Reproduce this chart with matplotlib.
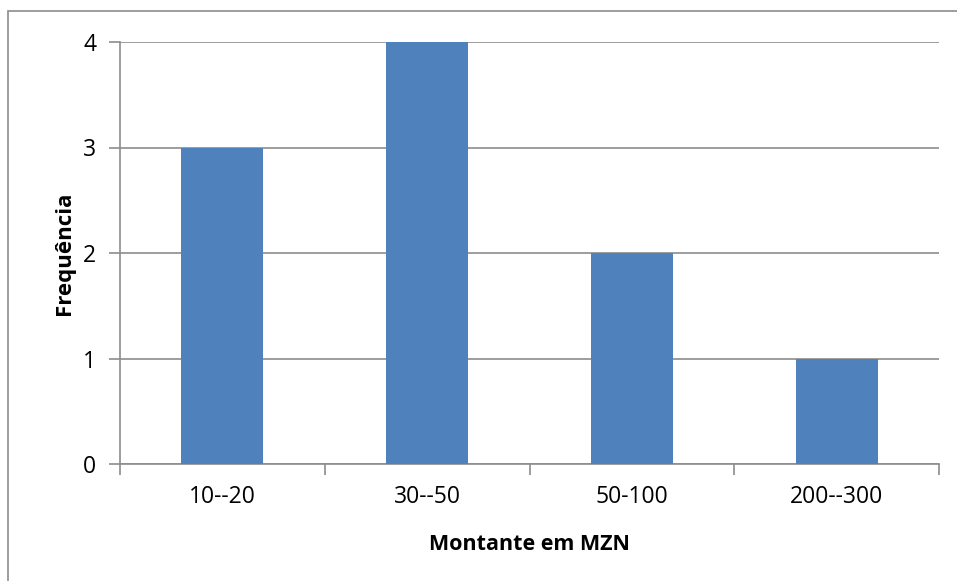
import matplotlib.pyplot as plt
from matplotlib.patches import Rectangle
import numpy as np

categories = ["10--20", "30--50", "50-100", "200--300"]
frequencies = [3, 4, 2, 1]

plt.rcParams["font.family"] = ["Open Sans", "DejaVu Sans"]

W, H = 957, 581
fig = plt.figure(figsize=(W / 100, H / 100), dpi=100)

# outer chart border (right and bottom edges fall outside the picture)
fig.patches.append(Rectangle((8 / W, -0.1), 1.2, (H - 11) / H + 0.1, transform=fig.transFigure,
                             fill=False, edgecolor="#8c8c8c", linewidth=1.2))

ax = fig.add_axes([120 / W, (H - 464) / H, (939 - 120) / W, (464 - 42) / H])

x = np.arange(len(categories))
ax.bar(x, frequencies, width=0.4, color="#4F81BD", zorder=3)

ax.set_xlim(-0.5, len(categories) - 0.5)
ax.set_ylim(0, 4)
ax.set_yticks([0, 1, 2, 3, 4])
ax.yaxis.grid(True, color="#8c8c8c", linewidth=1.2, zorder=0)

ax.set_xticks(x)
ax.set_xticklabels(categories)
ax.set_xticks(np.arange(len(categories) + 1) - 0.5, minor=True)
ax.tick_params(axis="x", which="major", length=0, pad=15, labelsize=16.5)
ax.tick_params(axis="x", which="minor", length=8, width=1.2, color="#8c8c8c")
ax.tick_params(axis="y", length=8, width=1.2, color="#8c8c8c", pad=9, labelsize=16.5)

for side in ["top", "right"]:
    ax.spines[side].set_visible(False)
for side in ["left", "bottom"]:
    ax.spines[side].set_color("#8c8c8c")
    ax.spines[side].set_linewidth(1.2)

ax.set_xlabel("Montante em MZN", fontsize=15.5, fontweight="bold", labelpad=18)
ax.set_ylabel("Frequência", fontsize=16, fontweight="bold", labelpad=6)

fig.savefig("out.png", dpi=100)
